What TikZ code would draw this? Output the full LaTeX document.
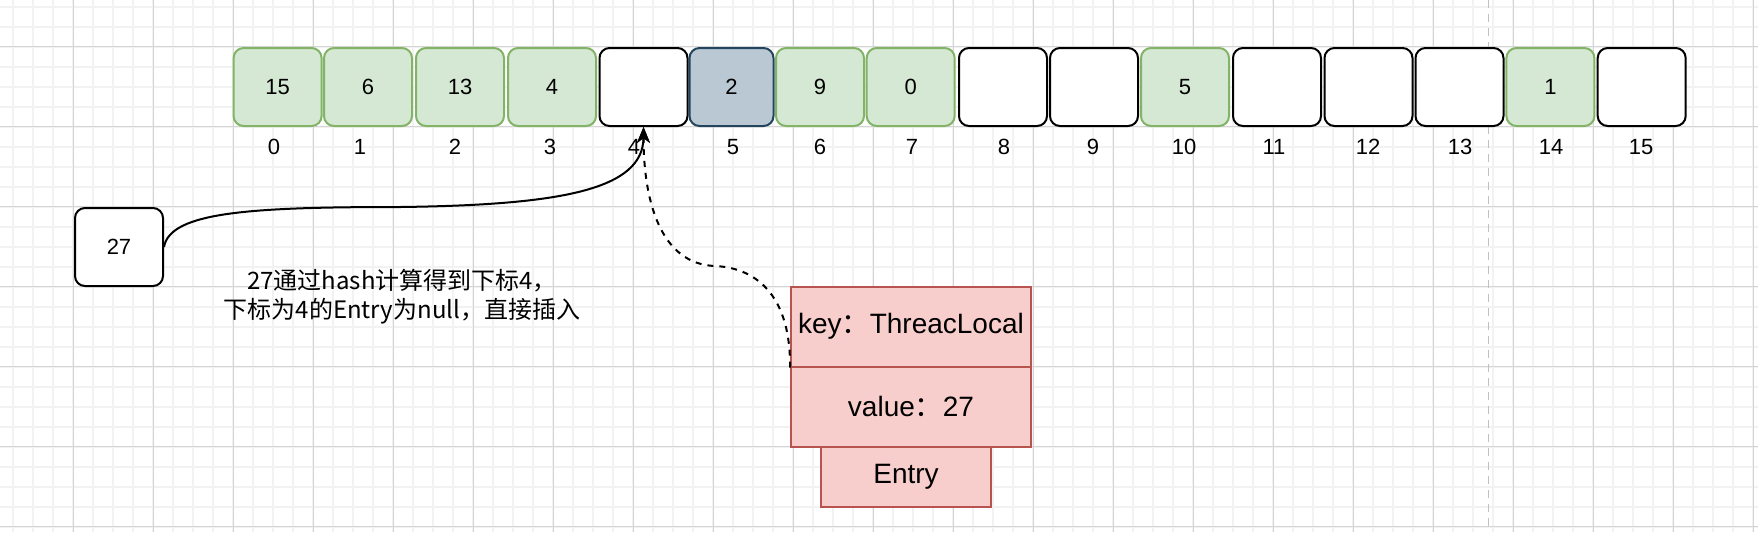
\documentclass[tikz,border=0pt]{standalone}
\usepackage{fontspec}
\setmainfont{Liberation Sans}
\newfontfamily\cjk{Noto Sans CJK SC}
\usetikzlibrary{arrows.meta}
\definecolor{gridminor}{HTML}{F2F2F2}
\definecolor{gridmajor}{HTML}{D4D4D4}
\definecolor{pagebreak}{HTML}{C0C0C0}
\definecolor{greenfill}{HTML}{D5E8D4}
\definecolor{greenline}{HTML}{82B366}
\definecolor{bluefill}{HTML}{BAC8D3}
\definecolor{blueline}{HTML}{23445D}
\definecolor{redfill}{HTML}{F8CECC}
\definecolor{redline}{HTML}{B85450}
\begin{document}
\begin{tikzpicture}[x=0.5pt, y=-0.5pt,
	cell/.style={draw=black, fill=white, line width=1pt, rounded corners=5pt, minimum width=44pt, minimum height=39pt, inner sep=0pt, font=\fontsize{11}{13}\selectfont},
	used/.style={cell, draw=greenline, fill=greenfill},
	taken/.style={cell, draw=blueline, fill=bluefill},
	idx/.style={inner sep=0pt, font=\fontsize{11}{13}\selectfont},
	note/.style={align=center, inner sep=0pt, font=\cjk\fontsize{12}{14.5}\selectfont},
	field/.style={draw=redline, fill=redfill, line width=1pt, minimum width=120pt, minimum height=40pt, inner sep=0pt, font=\fontsize{14}{16}\selectfont},
	link/.style={line width=1pt, -{Stealth[length=8pt, width=6.5pt, inset=2.5pt]}}]
	\useasboundingbox (0,0) rectangle (1758,532);
	\fill[white] (0,0) rectangle (1758,532);
	% background grid
	\foreach \i in {0,...,87} \draw[gridminor, line width=1pt] (13.33+20*\i,0) -- ++(0,532);
	\foreach \j in {0,...,26} \draw[gridminor, line width=1pt] (0,6.67+20*\j) -- ++(1758,0);
	\foreach \i in {0,...,21} \draw[gridmajor, line width=0.5pt] (73.33+80*\i,0) -- ++(0,532);
	\foreach \j in {0,...,6} \draw[gridmajor, line width=0.5pt] (0,46.67+80*\j) -- ++(1758,0);
	\draw[pagebreak, line width=0.5pt, dash pattern=on 4pt off 3pt] (1488,0) -- (1488,532);

	% the table
	\node[used] (c_0) at (277.6,87) {15};
	\node[used] (c_1) at (368,87) {6};
	\node[used] (c_2) at (460,87) {13};
	\node[used] (c_3) at (552,87) {4};
	\node[cell] (c_4) at (643.5,87) {};
	\node[taken, minimum width=42pt] (c_5) at (731.5,87) {2};
	\node[used] (c_6) at (820,87) {9};
	\node[used] (c_7) at (910.7,87) {0};
	\node[cell] (c_8) at (1003,87) {};
	\node[cell] (c_9) at (1094,87) {};
	\node[used] (c_10) at (1185,87) {5};
	\node[cell] (c_11) at (1277,87) {};
	\node[cell] (c_12) at (1368.5,87) {};
	\node[cell] (c_13) at (1459.5,87) {};
	\node[used] (c_14) at (1550.4,87) {1};
	\node[cell] (c_15) at (1641.7,87) {};

	\node[idx] (i_0) at (274,147) {0};
	\node[idx] (i_1) at (360,147) {1};
	\node[idx] (i_2) at (455,147) {2};
	\node[idx] (i_3) at (550,147) {3};
	\node[idx] (i_4) at (634,147) {4};
	\node[idx] (i_5) at (733,147) {5};
	\node[idx] (i_6) at (820,147) {6};
	\node[idx] (i_7) at (912,147) {7};
	\node[idx] (i_8) at (1004,147) {8};
	\node[idx] (i_9) at (1093,147) {9};
	\node[idx] (i_10) at (1184,147) {10};
	\node[idx] (i_11) at (1274,147) {11};
	\node[idx] (i_12) at (1368,147) {12};
	\node[idx] (i_13) at (1460,147) {13};
	\node[idx] (i_14) at (1551,147) {14};
	\node[idx] (i_15) at (1641,147) {15};

	\node[cell] (n27) at (119,247) {27};
	\node[note] (hint) at (402,297) {27通过hash计算得到下标4，\\下标为4的Entry为null，直接插入};

	% the entry
	\node[field] (key) at (911,326.7) {key{\cjk ：}ThreacLocal};
	\node[field] (value) at (911,406.7) {value{\cjk ：}27};
	\node[field, minimum width=85pt, minimum height=30pt] (entry) at (906,476.7) {Entry};

	\coordinate (bend) at (400,207);
	\coordinate (turn) at (715,266);
	\draw[link] (n27.east) .. controls (170,212) and (250,207) .. (bend) .. controls (560,205) and (643.5,190) .. (c_4.south);
	\draw[link, dash pattern=on 3pt off 3pt] (key.south west) .. controls (791,300) and (760,268) .. (turn) .. controls (660,264) and (643.5,200) .. (c_4.south);
\end{tikzpicture}
\end{document}
